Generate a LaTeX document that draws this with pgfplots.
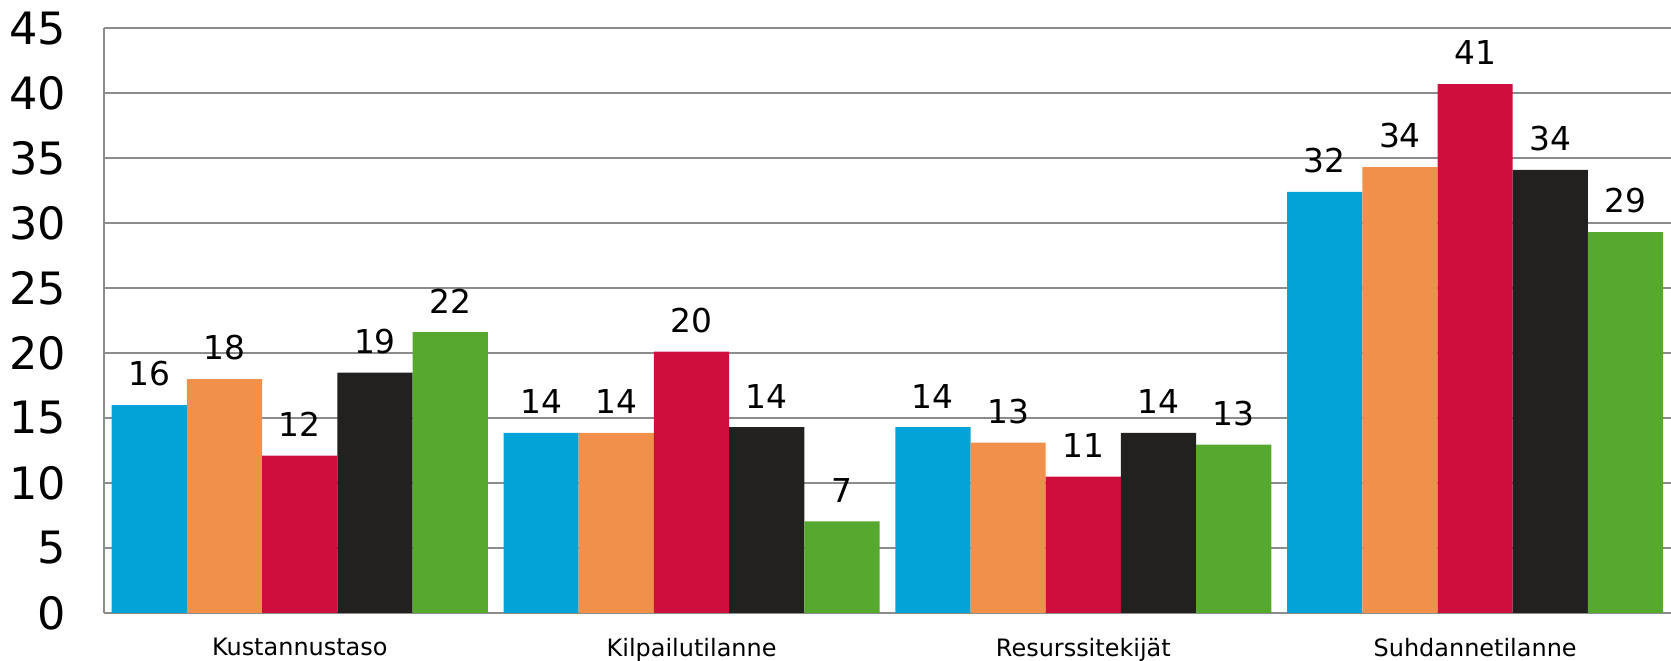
\documentclass[border=0pt]{standalone}
\usepackage{pgfplots}
\pgfplotsset{compat=1.18}
\usepackage{fontspec}
\setmainfont{DejaVu Sans}
\definecolor{cblue}{HTML}{03A3D8}
\definecolor{corange}{HTML}{F0904A}
\definecolor{cred}{HTML}{CE0F3D}
\definecolor{cblack}{HTML}{222120}
\definecolor{cgreen}{HTML}{57A82E}
\definecolor{cgrid}{HTML}{8C8C8C}
\begin{document}
\begin{tikzpicture}
\begin{axis}[
  width=562.7pt, height=210pt, scale only axis,
  ybar=0pt, bar width=0.192,
  xmin=-0.5, xmax=3.5, ymin=0, ymax=45,
  xtick={0,1,2,3},
  xticklabels={Kustannustaso,Kilpailutilanne,Resurssitekijät,Suhdannetilanne},
  ytick={0,5,...,45},
  axis x line*=bottom, axis y line*=left,
  axis line style={draw=cgrid, line width=0.8pt, -},
  ymajorgrids, grid style={draw=cgrid, line width=0.75pt},
  major tick length=0pt,
  clip=false,
  /pgf/number format/assume math mode=true,
  yticklabel style={font=\fontsize{16}{19}\selectfont, anchor=east, xshift=-10pt},
  xticklabel style={font=\fontsize{8.6}{10}\selectfont, yshift=-5.6pt},
  nodes near coords, point meta=explicit symbolic,
  every node near coord/.append style={font=\fontsize{11.8}{14}\selectfont, yshift=3.3pt, text=black},
]
\addplot[draw=none, fill=cblue] coordinates {(0,16.0) [16] (1,13.85) [14] (2,14.3) [14] (3,32.4) [32]};
\addplot[draw=none, fill=corange] coordinates {(0,18.0) [18] (1,13.85) [14] (2,13.1) [13] (3,34.3) [34]};
\addplot[draw=none, fill=cred] coordinates {(0,12.1) [12] (1,20.1) [20] (2,10.5) [11] (3,40.7) [41]};
\addplot[draw=none, fill=cblack] coordinates {(0,18.5) [19] (1,14.3) [14] (2,13.85) [14] (3,34.1) [34]};
\addplot[draw=none, fill=cgreen] coordinates {(0,21.6) [22] (1,7.05) [7] (2,12.95) [13] (3,29.3) [29]};
\coordinate (SW) at (rel axis cs:0,0);
\coordinate (NE) at (rel axis cs:1,1);
\end{axis}
\pgfresetboundingbox
\path (SW) ++(-37.3pt,-17.2pt) rectangle ([yshift=10.1pt]NE);
\end{tikzpicture}
\end{document}
